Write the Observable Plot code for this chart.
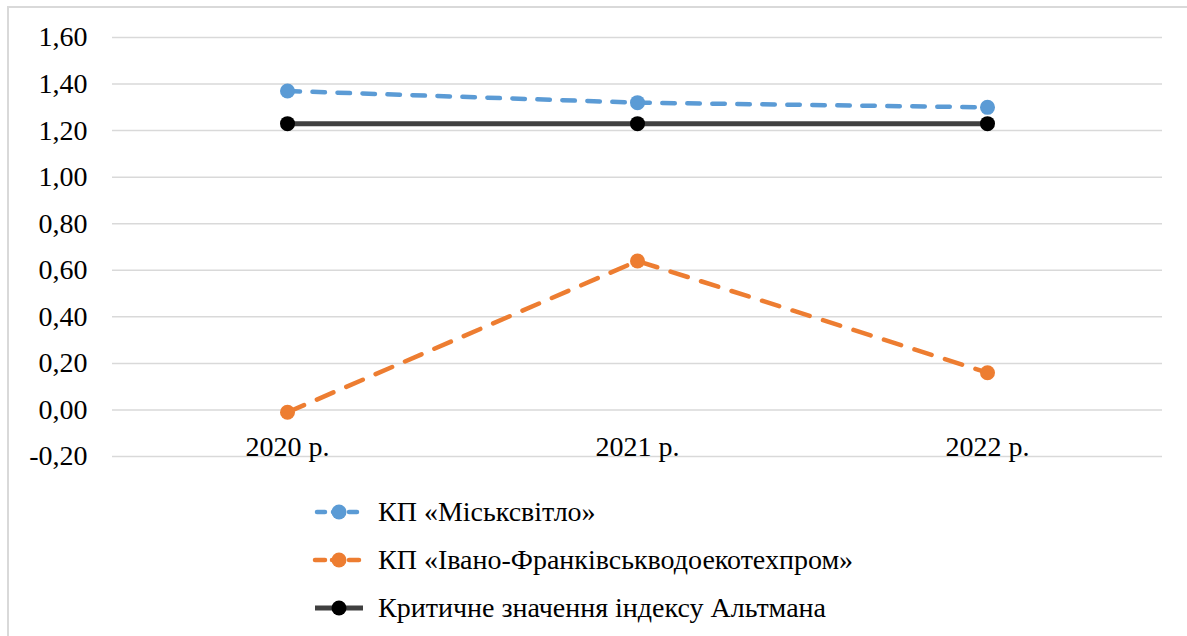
<!DOCTYPE html>
<html>
<head>
<meta charset="utf-8">
<script src="https://cdn.jsdelivr.net/npm/d3@7"></script>
<script src="https://cdn.jsdelivr.net/npm/@observablehq/plot@0.6"></script>
<style>
  html, body { margin: 0; padding: 0; background: #fff; }
  body { width: 1187px; height: 636px; position: relative; overflow: hidden; font-family: "Liberation Serif", Tinos, "Times New Roman", "DejaVu Serif", serif; }
  #frame { position: absolute; left: 7px; top: 6px; width: 1190px; height: 650px; border: 2px solid #d9d9d9; box-sizing: border-box; }
  #chart { position: absolute; left: 0; top: 0; }
  #legend { position: absolute; left: 312px; top: 488px; }
  .item { position: absolute; left: 0; height: 48px; white-space: nowrap; display: flex; align-items: center; }
  .item span { font-size: 28px; color: #000; margin-left: 12px; line-height: 1; }
  svg text { font-family: "Liberation Serif", Tinos, "Times New Roman", "DejaVu Serif", serif !important; }
</style>
</head>
<body>
<div id="frame"></div>
<div id="chart"></div>
<div id="legend"></div>
<script>
const years = ["2020 р.", "2021 р.", "2022 р."];
const seriesNames = ["КП «Міськсвітло»", "КП «Івано-Франківськводоекотехпром»", "Критичне значення індексу Альтмана"];
const misksvitlo = [1.37, 1.32, 1.30];
const vodoekotekhprom = [-0.01, 0.64, 0.16];
const altmanCritical = [1.23, 1.23, 1.23];
const yTicks = [-0.2, 0, 0.2, 0.4, 0.6, 0.8, 1.0, 1.2, 1.4, 1.6];

const FONT = '"Liberation Serif", Tinos, "Times New Roman", "DejaVu Serif", serif';
const colors = ["#5B9BD5", "#ED7D31", "#404040"];
const markerColors = ["#5B9BD5", "#ED7D31", "#000000"];
const dashes = ["12.5,12.5", "18,14", null];
const allValues = [misksvitlo, vodoekotekhprom, altmanCritical];

const data = allValues.map((vals, s) => years.map((y, i) => ({series: seriesNames[s], year: y, value: vals[i]})));
const fmt = v => d3.format(".2f")(v).replace(".", ",").replace("−", "-");

const marks = [
  Plot.ruleY(yTicks, {stroke: "#d9d9d9", strokeWidth: 1.5}),
  Plot.text(years, {x: d => d, y: () => 0, dy: 37, fontSize: 28, fill: "#000"})
];
data.forEach((d, s) => {
  marks.push(Plot.line(d, {x: "year", y: "value", stroke: colors[s], strokeWidth: s === 2 ? 5 : 4.5, strokeDasharray: dashes[s] || undefined, strokeLinecap: "round"}));
  marks.push(Plot.dot(d, {x: "year", y: "value", r: 7.5, fill: markerColors[s], stroke: "none"}));
});

const plot = Plot.plot({
  width: 1187,
  height: 480,
  marginLeft: 112,
  marginRight: 25,
  marginTop: 37,
  marginBottom: 24,
  style: {fontFamily: FONT, fontSize: "28px", color: "#000", background: "transparent"},
  x: {type: "point", domain: years, padding: 0.5, axis: null},
  y: {domain: [-0.2, 1.6], ticks: yTicks, tickFormat: fmt, tickSize: 0, tickPadding: 25, label: null},
  marks
});
document.getElementById("chart").appendChild(plot);

const legend = document.getElementById("legend");
seriesNames.forEach((name, s) => {
  const item = document.createElement("div");
  item.className = "item";
  item.style.top = (s * 48) + "px";
  const dash = s === 0 ? 'stroke-dasharray="8,8"' : (s === 1 ? 'stroke-dasharray="10,7"' : '');
  const off = s === 0 ? 'stroke-dashoffset="-2"' : (s === 1 ? 'stroke-dashoffset="0"' : '');
  item.innerHTML = `<svg width="54" height="20" style="overflow:visible"><line x1="3" y1="10" x2="51" y2="10" stroke="${colors[s]}" stroke-width="${s === 2 ? 5 : 4.5}" stroke-linecap="${s===2?'butt':'round'}" ${dash} ${off}/><circle cx="27" cy="10" r="7.5" fill="${markerColors[s]}"/></svg><span>${name}</span>`;
  legend.appendChild(item);
});
</script>
</body>
</html>
